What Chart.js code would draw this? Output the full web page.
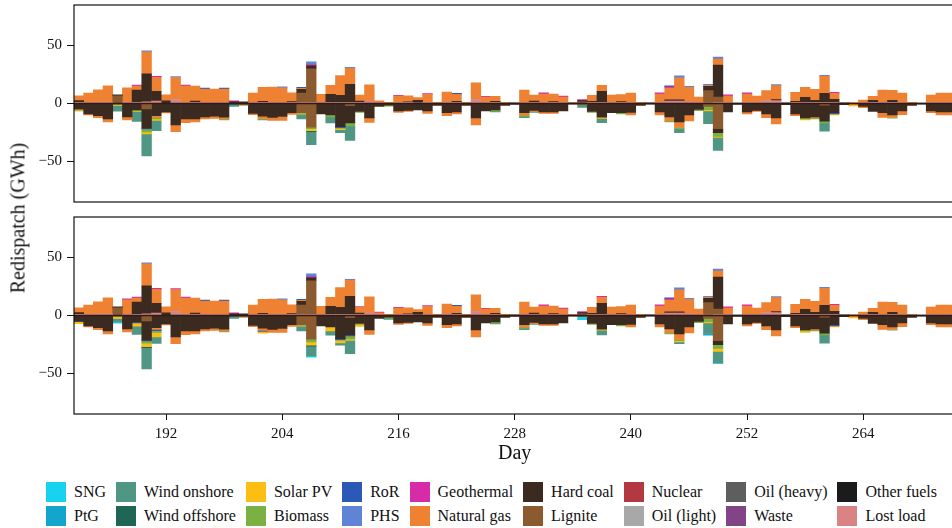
<!DOCTYPE html>
<html>
<head>
<meta charset="utf-8">
<title>Redispatch</title>
<script src="https://cdn.jsdelivr.net/npm/chart.js@4.4.1/dist/chart.umd.min.js"></script>
<style>
  html, body { margin: 0; padding: 0; background: #fff; overflow: hidden; width: 952px; height: 528px; }
  #wrap { position: relative; width: 952px; height: 528px; overflow: hidden; font-family: 'Liberation Serif', serif; color: #111; }
  #topChart { position: absolute; left: 0; top: 0; }
  #bottomChart { position: absolute; left: 0; top: 212px; }
  #ylabel { position: absolute; left: 18px; top: 218px; transform: translate(-50%, -50%) rotate(-90deg); font-size: 20px; white-space: nowrap; }
  #legend { position: absolute; left: 46px; top: 482px; display: grid; grid-template-rows: 20px 20px; grid-auto-flow: column; column-gap: 10px; row-gap: 4px; font-size: 16px; }
  .item { display: flex; align-items: center; white-space: nowrap; }
  .swatch { width: 20px; height: 20px; margin-right: 8px; }
</style>
</head>
<body>
<div id="wrap">
  <canvas id="topChart" width="960" height="207"></canvas>
  <canvas id="bottomChart" width="960" height="258"></canvas>
  <div id="ylabel">Redispatch (GWh)</div>
  <div id="legend"></div>
</div>
<script>
// Days shown on the x axis (one bar per day)
const days = [
  183, 184, 185, 186, 187, 188, 189, 190, 191, 192,
  193, 194, 195, 196, 197, 198, 199, 200, 201, 202,
  203, 204, 205, 206, 207, 208, 209, 210, 211, 212,
  213, 214, 215, 216, 217, 218, 219, 220, 221, 222,
  223, 224, 225, 226, 227, 228, 229, 230, 231, 232,
  233, 234, 235, 236, 237, 238, 239, 240, 241, 242,
  243, 244, 245, 246, 247, 248, 249, 250, 251, 252,
  253, 254, 255, 256, 257, 258, 259, 260, 261, 262,
  263, 264, 265, 266, 267, 268, 269, 270, 271, 272,
  273
];
const dayTicks = [192, 204, 216, 228, 240, 252, 264];
const yTicks = [-50, 0, 50];

// Technologies, in legend order
const seriesNames = ['SNG', 'PtG', 'Wind onshore', 'Wind offshore', 'Solar PV', 'Biomass', 'RoR', 'PHS', 'Geothermal',
  'Natural gas', 'Hard coal', 'Lignite', 'Nuclear', 'Oil (light)', 'Oil (heavy)', 'Waste', 'Other fuels', 'Lost load'];
const seriesColors = ['#18d3ef', '#14a5cc', '#4f9784', '#1f6657', '#fcbe12', '#7bb042', '#2c58b8', '#5f84d6', '#d62ca8',
  '#ef8133', '#3b2a20', '#8b5a2e', '#b1393f', '#a8a8a8', '#5e5e5e', '#824387', '#1b1b1b', '#d98385'];

// Redispatch in GWh per day (shared by both runs)
const gasUp = [
  4.1, 8, 10.5, 14, 0, 12.5, 3.4, 19, 12, 5.2,
  18.7, 14, 13, 11.5, 11.5, 11.5, 0, 0, 8, 12.2,
  13.2, 12.5, 7.6, 0.9, 0, 7, 7.8, 17.2, 13.8, 5.2,
  13.8, 1.5, 1, 5.5, 5.2, 2.3, 7, 1, 8.4, 6,
  1, 14.4, 4.6, 4.3, 1, 0, 10.6, 5.2, 7.2, 6.6,
  4.6, 0.5, 0, 5.2, 5.2, 6.3, 6, 8, 1, 0,
  7.2, 10.3, 19, 12.4, 4.6, 0.9, 5.2, 5.5, 0, 7.2,
  5.5, 8.6, 12, 0, 7.8, 8.6, 9.5, 14.7, 5.2, 0,
  0.9, 2, 3.4, 10.6, 8.6, 8, 1, 0, 6.3, 8,
  8
];
const gasDown = [
  0, -0.9, -1.7, -2.6, 0, -2.6, 0, 0, -1.4, -0.9,
  -6, -3.4, -2.6, -1.7, -2, -1.4, 0, 0, -1.1, -2,
  -2.6, -3.4, -1.4, 0, 0, 0, 0, 0, 0, 0,
  -4, 0, 0, -1.4, -0.9, 0, -2.3, 0, -2.6, -1.7,
  0, -6, 0, 0, 0, 0, -2, -0.9, -1.4, -1.4,
  0, 0, 0, 0, 0, 0, 0, -2, 0, 0,
  -2.6, -3.4, -4.9, -5.2, 0, 0, 0, 0, 0, -1.7,
  -0.9, -3.4, -5.2, 0, -1.7, 0, -0.9, 0, 0, 0,
  -1.1, -0.9, 0, -4, -2.3, -3.4, 0, 0, -1.7, -2.6,
  -2.6
];
const coalUp = [
  1.5, 0, 0, 0, 0.8, 0, 10.6, 24, 8.6, 2.3,
  0, 0, 1, 0, 0, 0, 1.5, 1.5, 0, 0.8,
  0, 0, 0.6, 3.2, 2.6, 0, 6.9, 6, 15.5, 1,
  0, 0, 0, 0, 0.5, 2.3, 0, 0, 0, 0.9,
  0, 0, 0, 0.9, 0, 0.5, 0, 1.1, 0, 0.6,
  0, 0.3, 1, 0.9, 9.5, 0, 0.6, 0, 0, 0.5,
  0, 1.1, 1.2, 0, 0, 3.7, 27.6, 0, 0.3, 0,
  0, 0, 0.9, 0.5, 0.9, 4.3, 1.7, 7.8, 2.6, 0.5,
  0, 0, 1.7, 0, 1.7, 0, 0, 0.3, 0, 0,
  0
];
const coalDown = [
  -5, -8.9, -10.6, -13.2, 0, -11.5, -5.5, -16.7, -10.6, -7.2,
  -18.4, -13.2, -13.2, -11.5, -10.9, -11.8, -0.5, 0, -8.6, -10.9,
  -12, -11.2, -8, 0, 0, -8.9, -9.8, -20, -15, -6.9,
  -12.4, -2.6, -1.4, -6.3, -6, -5.5, -6.3, -1.7, -8, -7.2,
  -1.7, -12.4, -6.3, -5.5, -1.7, -0.8, -8, -6, -7.2, -7.2,
  -6.3, -0.5, 0, -6.9, -11.8, -8, -8, -7.8, -1.7, -0.5,
  -7.2, -11.5, -15.8, -9.8, -5.2, 0, -3.4, -7.2, -0.8, -7.2,
  -6, -8.9, -12.4, -1, -8.9, -12.4, -11.5, -13.8, -8, -1,
  0, -2.6, -6.9, -8, -9.8, -6.3, -1.7, -0.5, -6.3, -7.2,
  -7.2
];
const ligniteUp = [
  0, 0, 0, 0, 6.6, 0, 0, 0, 0, 0,
  0, 0, 0, 0, 0, 0, 0, 0, 0, 0,
  0, 0, 0, 8, 29, 0, 0, 0, 0, 0,
  0, 0, 0, 0, 0, 0, 0, 0, 0, 0,
  0, 0, 0, 0, 0, 0, 0, 0, 0, 0,
  0, 0, 1.5, 0, 0, 0, 0, 0, 0, 0,
  0, 0, 0, 0, 0, 10.6, 4.6, 0, 0, 0,
  0, 0, 0, 0, 0, 0, 0, 0, 0, 0,
  0, 0, 0, 0, 0, 0, 0, 0, 0, 0,
  0
];
const ligniteDown = [
  0, 0, 0, 0, -0.6, 0, 0, -4.6, 0, 0,
  0, 0, 0, 0, 0, 0, 0, -1.5, 0, 0,
  0, 0, 0, -8, -20.4, 0, 0, 0, -1.7, 0,
  0, 0, 0, 0, 0, 0, 0, 0, 0, 0,
  0, 0, 0, 0, 0, 0, 0, 0, 0, 0,
  0, 0, -1, 0, 0, 0, 0, 0, 0, 0,
  0, 0, 0, 0, 0, -2.5, -21.8, 0, 0, 0,
  0, 0, 0, 0, 0, 0, 0, -1.5, 0, 0,
  0, 0, 0, 0, 0, 0, 0, 0, 0, 0,
  0
];
const lostLoad = [
  1, 1, 1.3, 1.2, 0, 1, 1, 1.5, 2, 0,
  3.2, 1, 1, 1, 1, 1, 0, 0, 1, 1,
  1, 1, 1, 1, 1, 1, 1, 1, 1, 1,
  2.3, 0.8, 0, 1, 1, 0.5, 1, 0, 1.5, 1,
  0, 3, 1, 1, 0, 0, 1, 1, 1, 1,
  1, 0, 0, 1, 1, 1, 1, 1, 0, 0,
  1, 2, 2, 1.5, 1, 0.5, 1, 1, 0, 1,
  1, 2, 2.5, 0, 1, 1, 1, 1, 1, 0,
  0, 1, 1, 1, 1, 1, 0, 0, 1, 1,
  1
];
const rorUp = [
  0, 0, 0, 0, 0, 0, 0, 0, 0, 0,
  0, 0, 0, 0.9, 0, 0.9, 0, 0, 0, 0,
  0, 0, 0, 0.9, 0, 0, 0, 0, 0, 0,
  0, 0, 0, 0, 0, 0, 0, 0, 0, 0.9,
  0, 0, 0, 0, 0, 0, 0, 0, 0, 0,
  0, 0, 0, 0, 0, 0, 0, 0, 0, 0,
  0, 0.9, 0, 0, 0, 0, 0, 0, 0, 0,
  0, 0, 0, 0, 0, 0, 0, 0, 0, 0,
  0, 0, 0, 0, 0, 0, 0, 0, 0, 0,
  0
];
const oilLightUp = [
  0, 0, 0, 0, 0, 0, 0, 0, 0, 0,
  0.5, 0, 0, 0, 0, 0, 0, 0, 0, 0,
  0, 0, 0, 0, 0, 0, 0, 0, 0, 0,
  0, 0, 0, 0, 0, 0, 0, 0, 0, 0,
  0, 0.4, 0, 0, 0, 0, 0, 0, 0, 0,
  0, 0, 0, 0, 0, 0, 0, 0, 0, 0,
  0, 0, 0, 0, 0, 0, 0, 0, 0, 0,
  0, 0.5, 0, 0, 0, 0, 0, 0, 0, 0,
  0, 0, 0, 0, 0, 0, 0, 0, 0, 0,
  0
];

// Upper run
const geoUpA = [
  0, 0, 0, 0, 0, 0, 0.8, 0, 0.9, 0,
  0, 0.9, 0, 0, 0, 0, 0.9, 0, 0, 0,
  0, 0, 0, 0, 0.8, 0, 0, 0, 0, 0,
  0, 0, 0, 0.6, 0, 0, 0.6, 0, 0, 0,
  0, 0, 0.5, 0, 0, 0, 0, 0, 0.9, 0,
  0.9, 0, 0.9, 0, 0, 0, 0, 0, 0, 0,
  0.9, 0.9, 0, 0, 0, 0, 0, 0.9, 0, 0.9,
  0, 0, 0, 0, 0, 0, 0, 0, 0.9, 0,
  0, 0, 0, 0, 0, 0, 0, 0, 0, 0,
  0
];
const phsUpA = [
  0, 0, 0, 0, 0, 0, 0, 0.9, 0, 0,
  0.9, 0, 0, 0, 0, 0, 0, 0, 0, 0,
  0, 0.9, 0, 0, 2.6, 0, 0, 0, 0.9, 0,
  0, 0, 0, 0, 0, 0, 0, 0, 0, 0,
  0, 0, 0, 0, 0, 0, 0, 0, 0, 0,
  0, 0, 0, 0, 0, 0, 0, 0, 0, 0,
  0, 0, 1.7, 0.9, 0, 0.9, 1.7, 0, 0, 0,
  0, 0, 0.9, 0, 0, 0, 0, 0.9, 0, 0,
  0, 0, 0, 0, 0, 0, 0, 0, 0, 0,
  0
];
const rorDownA = [
  0, 0, 0, 0, 0, 0, 0, -0.6, 0, 0,
  0, 0, 0, 0, 0, 0, 0, 0, 0, 0,
  0, 0, 0, 0, 0, 0, 0, -0.8, 0, 0,
  0, 0, 0, 0, 0, 0, 0, 0, 0, 0,
  0, 0, 0, 0, 0, 0, 0, 0, 0, 0,
  0, 0, 0, 0, 0, 0, 0, 0, 0, 0,
  0, 0, 0, 0, 0, 0, 0, 0, 0, 0,
  0, 0, 0, 0, 0, 0, 0, 0, -0.9, 0,
  0, 0, 0, 0, 0, 0, 0, 0, 0, 0,
  0
];
const biomassDownA = [
  0, 0, 0, 0, -0.5, 0, -0.7, -2.6, -1.4, 0,
  0, 0, 0, 0, 0, -0.9, 0, 0, 0, 0,
  0, 0, 0, -0.6, -1.4, 0, -1.7, -0.8, -2.6, -0.9,
  0, 0, -0.9, 0, 0, 0, 0, 0, 0, 0,
  0, 0, 0, -1.1, 0, 0, -1.1, 0, 0, 0,
  0, 0, 0, -0.9, 0, 0, -0.9, 0, 0, 0,
  0, -0.9, -1.1, 0, -0.9, -2.9, -3.2, 0, 0, 0,
  0, 0, 0, 0, 0, -0.9, -0.9, -1.4, 0, 0,
  0, 0, 0, 0, -0.6, 0, 0, 0, 0, 0,
  0
];
const solarDownA = [
  -0.9, 0, 0, 0, -0.6, 0, -0.6, -1.7, -1.1, 0,
  0, 0, 0, 0, 0, 0, 0, 0, 0, -0.5,
  0, 0, 0, -0.6, -1.7, 0, 0, -0.9, 0, 0,
  0, 0, 0, 0, 0, 0, 0, 0, 0, 0,
  0, 0, 0, 0, 0, 0, 0, 0, 0, 0,
  0, 0, 0, 0, -1.1, 0, 0, 0, 0, 0,
  0, 0, 0, 0, 0, -0.9, -0.9, 0, 0, 0,
  0, 0, 0, 0, 0, -0.9, 0, 0, -0.9, 0,
  -0.9, 0, 0, 0, 0, 0, 0, 0, 0, 0,
  0
];
const windOffDownA = [
  0, 0, 0, 0, 0, 0, 0, 0, 0, 0,
  0, 0, 0, 0, 0, 0, 0, 0, 0, 0,
  0, 0, 0, 0, -0.9, 0, 0, 0, 0, 0,
  0, 0, 0, 0, 0, 0, 0, 0, 0, 0,
  0, 0, 0, 0, 0, 0, 0, 0, 0, 0,
  0, 0, 0, 0, 0, 0, 0, 0, 0, 0,
  0, 0, 0, 0, 0, 0, 0, 0, 0, 0,
  0, 0, 0, 0, 0, 0, 0, 0, 0, 0,
  0, 0, 0, 0, 0, 0, 0, 0, 0, 0,
  0
];
const windOnDownA = [
  -0.6, 0, 0, 0, -5, 0, -8.6, -19, -8.9, 0,
  0, 0, 0, 0, 0, 0, -2, 0, 0, -0.8,
  0, 0, 0, -4, -11.2, 0, -5.2, -2.6, -12.6, 0,
  0, 0, 0, 0, 0, 0, 0, 0, 0, 0,
  0, 0, 0, -0.6, 0, 0, -1.1, -0.8, 0, 0,
  0, 0, -2.3, 0, -3.7, 0, 0, 0, 0, 0,
  0, 0, -3.4, 0, 0, -11, -11.2, 0, 0, 0,
  0, 0, 0, 0, 0, 0, 0, -7.2, 0, 0,
  0, 0, 0, 0, 0, 0, 0, 0, 0, 0,
  0
];

// Lower run
const geoUpB = [
  0, 0, 0, 0, 0, 0.9, 0.8, 0, 0.9, 0,
  0.9, 0.9, 0, 0, 0, 0, 0.9, 0, 0, 0,
  0, 0, 0, 0, 0.8, 0, 0, 0, 0, 0.6,
  0, 0.6, 0, 0.6, 0, 0, 0.6, 0, 0, 0,
  0, 0, 0.5, 0, 0, 0, 0, 0, 0.9, 0,
  0.9, 0, 0.9, 0, 0.9, 0, 0, 0, 0, 0,
  0.9, 0.9, 0, 0, 0, 0, 0, 0.9, 0, 0.9,
  0, 0, 0, 0, 0, 0, 0, 0, 0.9, 0,
  0, 0, 0, 0, 0, 0, 0, 0, 0, 0,
  0
];
const phsUpB = [
  0, 0, 0, 0, 0, 0, 0, 0.9, 0, 0,
  0, 0, 0, 0, 0, 0, 0, 0, 0, 0,
  0, 0.9, 0, 0, 2.6, 0, 0, 0, 0.9, 0,
  0, 0, 0, 0, 0, 0, 0, 0, 0, 0,
  0, 0, 0, 0, 0, 0, 0, 0, 0, 0,
  0, 0, 0, 0, 0, 0, 0, 0, 0, 0,
  0, 0, 1.7, 0.9, 0, 0.9, 1.7, 0, 0, 0,
  0, 0, 0.9, 0, 0, 0, 0, 0.9, 0, 0,
  0, 0, 0, 0, 0, 0, 0, 0, 0, 0,
  0
];
const rorDownB = [
  -0.3, 0, 0, 0, 0, 0, -0.8, -0.6, -1.1, 0,
  0, 0, 0, 0, 0, 0, 0, 0, 0, -0.9,
  0, 0, 0, 0, 0, 0, 0, -0.8, -0.9, 0,
  0, 0, 0, 0, 0, 0, 0, 0, 0, 0,
  0, 0, 0, 0, 0, 0, 0, 0, 0, 0,
  0, 0, 0, 0, 0, 0, 0, 0, 0, 0,
  0, 0, 0, 0, 0, 0, 0, 0, 0, 0,
  0, 0, 0, 0, 0, 0, 0, 0, -0.9, 0,
  0, 0, 0, 0, 0, 0, 0, 0, 0, 0,
  0
];
const biomassDownB = [
  0, 0, 0, 0, -0.5, 0, 0, -2, -1.4, 0,
  0, 0, 0, 0, 0, -0.9, 0, 0, 0, 0,
  0, 0, 0, -0.6, -2.3, 0, 0, -0.8, -2.6, -0.9,
  0, 0, -0.9, 0, 0, 0, 0, 0, 0, 0,
  0, 0, 0, -1.1, 0, 0, -1.1, 0, 0, 0,
  0, 0, 0, -0.9, 0, 0, -0.9, 0, 0, 0,
  0, -0.9, -1, 0, -0.9, -2.9, -3.2, 0, 0, 0,
  0, 0, 0, 0, 0, -0.9, -0.9, -1.4, 0, 0,
  0, 0, 0, 0, -0.6, 0, 0, 0, 0, 0,
  0
];
const solarDownB = [
  -1.7, 0, 0, 0, -1.5, 0, -3, -2.9, -4, 0,
  0, 0, 0, 0, 0, 0, 0, 0, 0, -1.4,
  0, 0, 0, -0.6, -2.9, 0, -3.4, -2, -1.2, -1.7,
  0, 0, 0, 0, 0, 0, 0, 0, 0, 0,
  0, 0, 0, 0, 0, 0, 0, 0, 0, 0,
  0, 0, 0, 0, -0.9, 0, 0, 0, 0, 0,
  0, 0, -1, 0, 0, -0.9, -2.6, 0, 0, 0,
  0, 0, 0, 0, 0, -1.4, 0, 0, -0.9, 0,
  -0.9, 0, 0, 0, 0, 0, 0, 0, 0, 0,
  0
];
const windOffDownB = [
  0, 0, 0, 0, 0, 0, 0, -0.9, 0, 0,
  0, 0, 0, 0, 0, 0, 0, 0, 0, 0,
  0, 0, 0, 0, -0.9, 0, 0, 0, 0, 0,
  0, 0, 0, 0, 0, 0, 0, 0, 0, 0,
  0, 0, 0, 0, 0, 0, 0, 0, 0, 0,
  0, 0, 0, 0, 0, 0, 0, 0, 0, 0,
  0, 0, 0, 0, 0, 0, 0, 0, 0, 0,
  0, 0, 0, 0, 0, 0, 0, 0, 0, 0,
  0, 0, 0, 0, 0, 0, 0, 0, 0, 0,
  0
];
const windOnDownB = [
  0, 0, 0, 0, -3, 0, -7, -18.4, -5.5, 0,
  0, 0, 0, 0, 0, 0, -2, 0, 0, 0,
  0, 0, 0, -4, -8.3, 0, -3.7, -2, -11.5, 0,
  0, 0, -1, 0, 0, 0, 0, 0, 0, 0,
  0, 0, 0, -0.6, 0, 0, -1.1, -0.8, 0, 0,
  0, 0, 0, 0, -4, 0, 0, 0, 0, 0,
  0, 0, -1.7, 0, 0, -9.2, -9.5, 0, 0, 0,
  0, 0, 0, 0, 0, 0, 0, -7.2, 0, 0,
  0, 0, 0, 0, 0, 0, 0, 0, 0, 0,
  0
];
const sngDownB = [
  0, 0, 0, 0, -1, 0, 0, 0, 0, 0,
  0, 0, 0, 0, 0, 0, 0, 0, 0, 0,
  0, 0, 0, 0, -1.1, 0, 0, 0, 0, 0,
  0, 0, 0, 0, 0, 0, 0, 0, 0, 0,
  0, 0, 0, 0, 0, 0, 0, 0, 0, 0,
  0, 0, -2.5, 0, 0, 0, 0, 0, 0, 0,
  0, 0, 0, 0, 0, 0, 0, 0, 0, 0,
  0, 0, 0, 0, 0, 0, 0, 0, 0, 0,
  0, 0, 0, 0, 0, 0, 0, 0, 0, 0,
  0
];
const ptgDownB = [
  0, 0, 0, 0, 0, 0, 0, 0, 0, 0,
  0, 0, 0, 0, 0, 0, 0, 0, 0, 0,
  0, 0, 0, 0, 0, 0, 0, 0, 0, 0,
  0, 0, 0, 0, 0, 0, 0, 0, 0, 0,
  0, 0, 0, 0, 0, 0, 0, 0, 0, 0,
  0, 0, 0, 0, 0, 0, 0, 0, 0, 0,
  0, 0, 0, 0, 0, -1.4, -0.9, 0, 0, 0,
  0, 0, 0, 0, 0, 0, 0, 0, 0, 0,
  0, 0, 0, 0, 0, 0, 0, 0, 0, 0,
  0
];

const topPanel = {
  'Wind onshore': { down: windOnDownA },
  'Wind offshore': { down: windOffDownA },
  'Solar PV': { down: solarDownA },
  'Biomass': { down: biomassDownA },
  'RoR': { up: rorUp, down: rorDownA },
  'PHS': { up: phsUpA },
  'Geothermal': { up: geoUpA },
  'Natural gas': { up: gasUp, down: gasDown },
  'Hard coal': { up: coalUp, down: coalDown },
  'Lignite': { up: ligniteUp, down: ligniteDown },
  'Oil (light)': { up: oilLightUp },
  'Lost load': { up: lostLoad }
};
const bottomPanel = {
  'SNG': { down: sngDownB },
  'PtG': { down: ptgDownB },
  'Wind onshore': { down: windOnDownB },
  'Wind offshore': { down: windOffDownB },
  'Solar PV': { down: solarDownB },
  'Biomass': { down: biomassDownB },
  'RoR': { up: rorUp, down: rorDownB },
  'PHS': { up: phsUpB },
  'Geothermal': { up: geoUpB },
  'Natural gas': { up: gasUp, down: gasDown },
  'Hard coal': { up: coalUp, down: coalDown },
  'Lignite': { up: ligniteUp, down: ligniteDown },
  'Oil (light)': { up: oilLightUp },
  'Lost load': { up: lostLoad }
};

Chart.defaults.font.family = "'Liberation Serif', serif";
Chart.defaults.color = '#111';

// stack from the last legend entry outwards, so lost load sits next to zero
function buildDatasets(panel) {
  const sets = [];
  for (let i = seriesNames.length - 1; i >= 0; i--) {
    const s = panel[seriesNames[i]];
    if (!s) continue;
    ['up', 'down'].forEach(dir => {
      if (!s[dir]) return;
      sets.push({
        label: seriesNames[i] + ' ' + dir,
        data: s[dir].map((v, j) => ({ x: days[j], y: v === 0 ? null : v })),
        backgroundColor: seriesColors[i],
        borderWidth: 0,
        stack: 'redispatch'
      });
    });
  }
  return sets;
}

// zero line plus the box around the axes
const framePlugin = {
  id: 'frame',
  afterDatasetsDraw(chart) {
    const { ctx, chartArea: a } = chart;
    const y0 = chart.scales.y.getPixelForValue(0);
    ctx.save();
    ctx.strokeStyle = '#2b1c1a';
    ctx.lineWidth = 1.3;
    ctx.beginPath();
    ctx.moveTo(a.left, y0);
    ctx.lineTo(a.right, y0);
    ctx.stroke();
    ctx.strokeStyle = '#111';
    ctx.lineWidth = 1.2;
    ctx.strokeRect(a.left, a.top, a.right - a.left, a.bottom - a.top);
    ctx.restore();
  }
};

function makeOptions(showX) {
  return {
    responsive: false,
    animation: false,
    events: [],
    layout: { padding: { top: 5, right: 4.7, bottom: showX ? 0 : 5, left: 0 } },
    datasets: { bar: { barPercentage: 1, categoryPercentage: 1 } },
    plugins: { legend: { display: false }, tooltip: { enabled: false } },
    scales: {
      x: {
        type: 'linear',
        min: 182.5,
        max: 273.5,
        offset: false,
        display: showX,
        afterBuildTicks: axis => { axis.ticks = dayTicks.map(v => ({ value: v })); },
        afterFit: axis => {
          axis.height = showX ? 56 : 0;
          axis.paddingLeft = 0;
          axis.paddingRight = 0;
        },
        grid: { drawOnChartArea: false, drawTicks: true, tickLength: 6, color: '#111', offset: false },
        border: { display: false },
        ticks: { font: { size: 15 }, color: '#111', padding: 5, maxRotation: 0, callback: v => v },
        title: { display: true, text: 'Day', font: { size: 20 }, color: '#111', padding: { top: 0, bottom: 4 } }
      },
      y: {
        min: -85,
        max: 85,
        afterBuildTicks: axis => { axis.ticks = yTicks.map(v => ({ value: v })); },
        afterFit: axis => {
          axis.width = 74;
          axis.paddingTop = 0;
          axis.paddingBottom = 0;
        },
        grid: { drawOnChartArea: false, drawTicks: true, tickLength: 7, color: '#111' },
        border: { display: false },
        ticks: {
          font: { size: 15 },
          color: '#111',
          padding: 5,
          callback: v => (v < 0 ? '\u2212' + Math.abs(v) : String(v))
        }
      }
    }
  };
}

new Chart(document.getElementById('topChart'), {
  type: 'bar',
  data: { datasets: buildDatasets(topPanel) },
  options: makeOptions(false),
  plugins: [framePlugin]
});

new Chart(document.getElementById('bottomChart'), {
  type: 'bar',
  data: { datasets: buildDatasets(bottomPanel) },
  options: makeOptions(true),
  plugins: [framePlugin]
});

// legend, filled column by column (two rows)
const legend = document.getElementById('legend');
seriesNames.forEach((name, i) => {
  const item = document.createElement('div');
  item.className = 'item';
  const sw = document.createElement('span');
  sw.className = 'swatch';
  sw.style.background = seriesColors[i];
  const label = document.createElement('span');
  label.textContent = name;
  item.appendChild(sw);
  item.appendChild(label);
  legend.appendChild(item);
});
</script>
</body>
</html>
